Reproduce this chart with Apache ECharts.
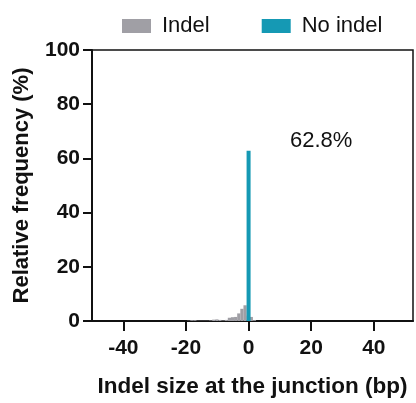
<!DOCTYPE html>
<html>
<head>
<meta charset="utf-8">
<script src="https://cdn.jsdelivr.net/npm/echarts@6/dist/echarts.min.js"></script>
<style>
    html, body { margin: 0; padding: 0; background: #fff; }
    #myChart { width: 416px; height: 403px; }
</style>
</head>
<body>
<div id="myChart"></div>
<script>
    // indel size (bp) and relative frequency (%)
    var indelSizes = [-19, -18, -17, -16, -15, -14, -13, -12, -11, -10, -9, -8, -7, -6, -5, -4, -3, -2, -1, 0, 1, 2]
    var indelFreq = [0.1, 0.3, 0.3, 0.1, 0.1, 0.1, 0.1, 0.2, 0.5, 0.6, 0.4, 0.2, 0.4, 1.2, 1.4, 1.5, 2.8, 4.5, 5.8, 2.0, 1.5, 0.3]
    var noIndelSize = [0]
    var noIndelFreq = [62.8]
    var xTicks = [-40, -20, 0, 20, 40]
    var yTicks = [0, 20, 40, 60, 80, 100]

    var font = 'Liberation Sans, Arial, sans-serif'
    var gray = '#a09fa5'
    var teal = '#1599b4'

    let myChart = echarts.init(document.getElementById('myChart'))

    let indelData = indelSizes.map(function (s, i) { return [s, indelFreq[i]] })
    let noIndelData = noIndelSize.map(function (s, i) { return [s, noIndelFreq[i]] })

    myChart.setOption({
        animation: false,
        legend: {
            top: 10,
            left: 117,
            itemWidth: 29,
            itemHeight: 14,
            itemGap: 52,
            icon: 'rect',
            textStyle: {
                fontFamily: font,
                fontSize: 22,
                color: '#111',
                padding: [0, 0, 0, 6]
            },
            data: ['Indel', 'No indel']
        },
        grid: {
            left: 92, right: 3, top: 50, bottom: 80,
            show: true,
            borderColor: '#111',
            borderWidth: 1.5
        },
        xAxis: {
            type: 'value',
            min: -50,
            max: 52.5,
            name: 'Indel size at the junction (bp)',
            nameLocation: 'middle',
            nameGap: 54,
            nameTextStyle: { fontFamily: font, fontSize: 22.5, fontWeight: 'bold', color: '#111' },
            axisLine: { onZero: false, lineStyle: { color: '#111', width: 2 } },
            axisTick: { show: true, customValues: xTicks, length: 10, lineStyle: { color: '#111', width: 2 } },
            axisLabel: {
                customValues: xTicks,
                margin: 17,
                fontFamily: font, fontSize: 21, fontWeight: 'bold', color: '#111'
            },
            splitLine: { show: false }
        },
        yAxis: {
            type: 'value',
            min: 0,
            max: 100,
            interval: 20,
            name: 'Relative frequency (%)',
            nameLocation: 'middle',
            nameGap: 59,
            nameTextStyle: { fontFamily: font, fontSize: 22, fontWeight: 'bold', color: '#111' },
            axisLine: { show: true, onZero: false, lineStyle: { color: '#111', width: 2 } },
            axisTick: { show: true, inside: false, length: 9, customValues: yTicks, lineStyle: { color: '#111', width: 2 } },
            axisLabel: {
                margin: 12,
                customValues: yTicks,
                fontFamily: font, fontSize: 21, fontWeight: 'bold', color: '#111'
            },
            splitLine: { show: false }
        },
        graphic: [{
            type: 'text',
            left: 290,
            top: 130,
            style: { text: '62.8%', fontFamily: font, fontSize: 22, fill: '#111' }
        }],
        series: [{
            name: 'Indel',
            type: 'bar',
            data: indelData,
            barWidth: 3.2,
            barGap: '-100%',
            itemStyle: { color: gray }
        },
        {
            name: 'No indel',
            type: 'bar',
            data: noIndelData,
            barWidth: 4,
            barGap: '-100%',
            itemStyle: { color: teal }
        }]
    })
</script>
</body>
</html>
